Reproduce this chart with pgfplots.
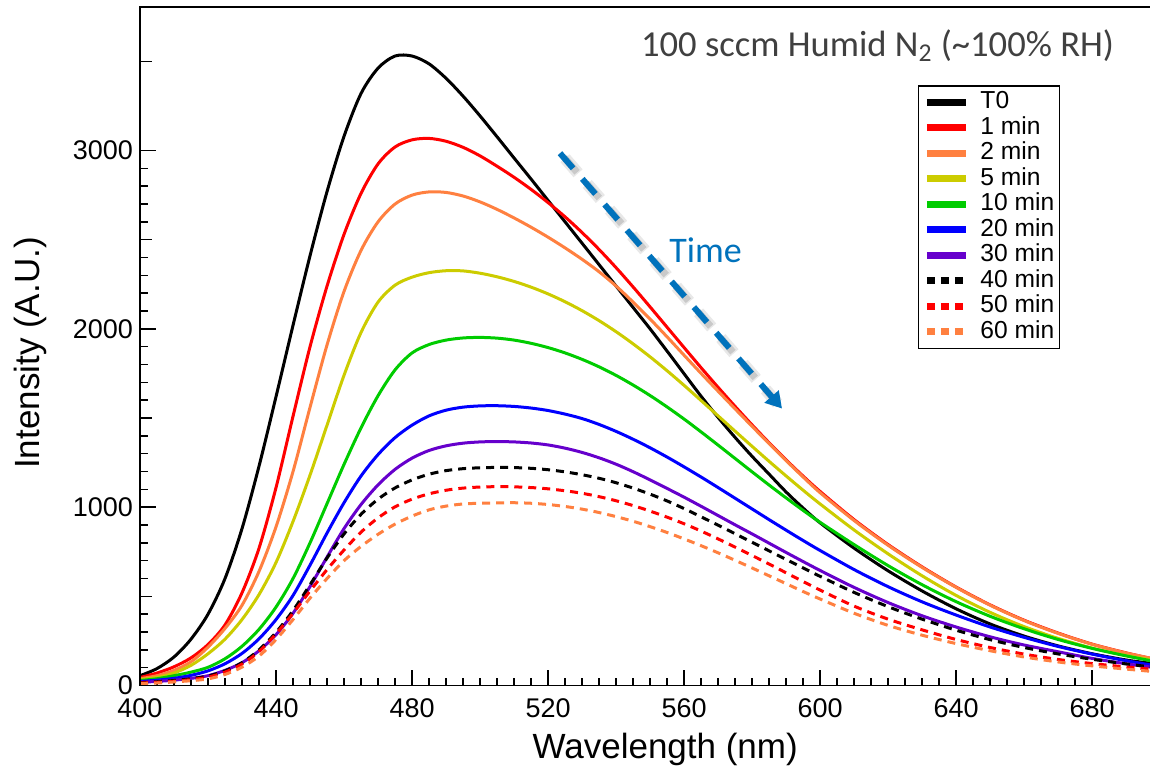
\documentclass[border=0pt]{standalone}
\usepackage{fontspec}
\setmainfont{Liberation Sans}
\newfontfamily\calibri{Carlito}
\usepackage{pgfplots}
\usepackage{pgfplotstable}
\pgfplotsset{compat=1.18}
\usetikzlibrary{arrows.meta}

\definecolor{cred}{RGB}{255,0,0}
\definecolor{corange}{RGB}{255,128,64}
\definecolor{cyellow}{RGB}{204,204,0}
\definecolor{cgreen}{RGB}{0,204,0}
\definecolor{cblue}{RGB}{0,0,255}
\definecolor{cpurple}{RGB}{102,0,204}
\definecolor{tblue}{RGB}{0,114,188}
\definecolor{titlegray}{RGB}{64,64,64}

% emission spectra (intensity in A.U.)
\pgfplotstableread{
wl  t0   m1   m2   m5   m10  m20  m30  m40  m50  m60
400 55   45   38   33   28   22   18   16   14   10
405 95   70   55   45   38   30   23   21   18   14
410 160  105  85   70   55   40   30   28   24   20
415 260  155  133  113  75   57   40   38   33   27
420 400  230  215  178  102  82   55   53   47   37
425 600  340  320  260  150  122  85   82   75   62
430 880  520  450  370  220  180  128  128  120  103
435 1230 770  640  510  315  262  195  200  190  165
440 1620 1110 890  690  440  370  285  298  290  258
445 2020 1510 1200 920  600  505  405  420  405  370
450 2410 1900 1560 1180 800  675  555  565  530  490
455 2770 2240 1910 1460 1020 855  720  715  650  600
460 3080 2530 2210 1740 1240 1025 880  850  760  700
465 3320 2760 2440 1980 1445 1175 1015 960  860  780
470 3462 2925 2600 2150 1625 1295 1125 1045 940  848
475 3530 3020 2700 2245 1770 1390 1212 1108 1002 905
480 3530 3060 2750 2290 1865 1460 1275 1153 1045 950
485 3486 3068 2768 2315 1912 1512 1318 1185 1075 985
490 3405 3052 2765 2326 1937 1544 1344 1205 1095 1006
495 3305 3018 2745 2325 1949 1561 1359 1216 1107 1018
500 3194 2970 2712 2312 1952 1568 1366 1221 1113 1022
505 3077 2912 2670 2292 1948 1569 1368 1223 1115 1024
510 2958 2850 2622 2266 1937 1565 1366 1222 1114 1025
515 2840 2782 2570 2234 1919 1556 1360 1218 1110 1022
520 2720 2708 2514 2196 1895 1542 1349 1210 1103 1015
525 2600 2628 2454 2152 1865 1522 1331 1198 1092 1004
530 2480 2540 2390 2102 1829 1497 1307 1182 1078 989
535 2360 2445 2320 2046 1787 1464 1277 1162 1059 970
540 2240 2343 2240 1984 1739 1425 1241 1137 1036 947
545 2120 2235 2150 1916 1685 1381 1199 1107 1009 921
550 2000 2123 2055 1843 1626 1333 1153 1073 978  891
555 1875 2009 1955 1765 1562 1281 1105 1035 944  858
560 1748 1895 1852 1683 1494 1226 1056 992  907  822
565 1622 1782 1750 1598 1422 1169 1005 946  866  784
570 1503 1672 1650 1512 1348 1110 953  899  822  744
575 1391 1565 1551 1426 1273 1050 901  851  776  702
580 1285 1461 1453 1341 1198 990  850  803  729  659
585 1185 1361 1356 1257 1124 930  798  755  681  615
590 1085 1265 1261 1175 1052 871  746  707  632  571
595 995  1174 1169 1095 982  813  695  659  583  527
600 912  1088 1081 1018 915  757  645  612  535  485
610 770  930  925  872  790  650  550  522  445  405
620 643  790  786  738  672  554  465  442  372  337
630 530  665  662  615  565  469  391  372  312  282
640 430  552  550  505  470  395  328  310  258  235
650 345  452  450  410  388  328  273  257  213  195
660 277  366  364  330  318  270  227  213  176  160
670 222  294  292  264  258  219  189  177  146  132
680 178  232  231  210  208  176  152  147  123  110
690 143  183  182  168  166  139  122  121  104  92
697 125  153  154  145  140  116  104  105  92   80
}\spectra

\begin{document}
\begin{tikzpicture}
\begin{axis}[
    name=ax,
    at={(70pt,43.25pt)}, anchor=south west,
    scale only axis, width=505pt, height=339.25pt,
    xmin=400, xmax=697, ymin=0, ymax=3805,
    axis line style={draw=none},
    xtick pos=left, ytick pos=left, tick align=inside,
    xtick={400,440,...,680}, minor x tick num=7,
    ytick={0,1000,2000,3000}, minor y tick num=9,
    extra y ticks={500,1500,2500,3500}, extra y tick labels={},
    extra y tick style={major tick length=6pt},
    major tick length=8pt, minor tick length=4pt,
    every tick/.style={line width=0.8pt, black},
    scaled ticks=false,
    /pgf/number format/assume math mode=true,
    /pgf/number format/set thousands separator={},
    tick label style={font=\fontsize{13.5}{16}\selectfont},
    xticklabel style={yshift=-3pt},
    xlabel={Wavelength (nm)},
    ylabel={Intensity (A.U.)},
    label style={font=\fontsize{17.5}{20}\selectfont},
    xlabel style={at={(rel axis cs:0.52,-0.0943)}, anchor=center},
    ylabel style={at={(rel axis cs:-0.1089,0.49)}, anchor=center},
    every axis plot/.append style={line width=1.5pt, smooth, tension=0.5},
    legend image code/.code={\draw[#1, line width=3.5pt] (0pt,0pt) -- (19.5pt,0pt);},
    legend style={at={(rel axis cs:0.911,0.885)}, anchor=north east,
        draw=black, line width=0.8pt, inner sep=2.5pt,
        font=\fontsize{12.3}{12.3}\selectfont,
        nodes={inner sep=0pt, text height=9pt, text depth=2.5pt},
        row sep=1.25pt, column sep=5.5pt},
    legend cell align=left,
]

\addplot[black]   table[x=wl, y=t0]  {\spectra}; \addlegendentry{T0}
\addplot[cred]    table[x=wl, y=m1]  {\spectra}; \addlegendentry{1 min}
\addplot[corange] table[x=wl, y=m2]  {\spectra}; \addlegendentry{2 min}
\addplot[cyellow] table[x=wl, y=m5]  {\spectra}; \addlegendentry{5 min}
\addplot[cgreen]  table[x=wl, y=m10] {\spectra}; \addlegendentry{10 min}
\addplot[cblue]   table[x=wl, y=m20] {\spectra}; \addlegendentry{20 min}
\addplot[cpurple] table[x=wl, y=m30] {\spectra}; \addlegendentry{30 min}
\addplot[black, dash pattern=on 4pt off 3pt]   table[x=wl, y=m40] {\spectra}; \addlegendentry{40 min}
\addplot[cred, dash pattern=on 4pt off 3pt]    table[x=wl, y=m50] {\spectra}; \addlegendentry{50 min}
\addplot[corange, dash pattern=on 4pt off 3pt] table[x=wl, y=m60] {\spectra}; \addlegendentry{60 min}

% Time arrow with soft shadow
\draw[gray, opacity=0.18, line width=6pt, dash pattern=on 10pt off 7pt]
    ([xshift=2.5pt,yshift=-2.5pt]axis cs:523.5,2985) -- ([xshift=2.5pt,yshift=-2.5pt]axis cs:586,1610);
\draw[gray, opacity=0.3, line width=3.5pt, dash pattern=on 10pt off 7pt]
    ([xshift=2pt,yshift=-2pt]axis cs:523.5,2985) -- ([xshift=2pt,yshift=-2pt]axis cs:586,1610);
\draw[tblue, line width=3pt, dash pattern=on 10pt off 7pt,
    -{Triangle[length=8pt,width=9pt]}]
    (axis cs:523.5,2985) -- (axis cs:588.8,1553);
\node[tblue, font=\calibri\fontsize{18}{20}\selectfont] at (axis cs:566.3,2441) {Time};

\node[titlegray, anchor=east, font=\calibri\fontsize{18.3}{20}\selectfont]
    at (axis cs:688.5,3590) {100 sccm Humid N\textsubscript{2} (\textasciitilde100\% RH)};
\end{axis}
% frame: left, bottom and top only
\draw[line width=0.8pt] (ax.south east) -- (ax.south west) -- (ax.north west) -- (ax.north east);
\pgfresetboundingbox
\path (0,0) rectangle (575pt,386pt);
\end{tikzpicture}
\end{document}
